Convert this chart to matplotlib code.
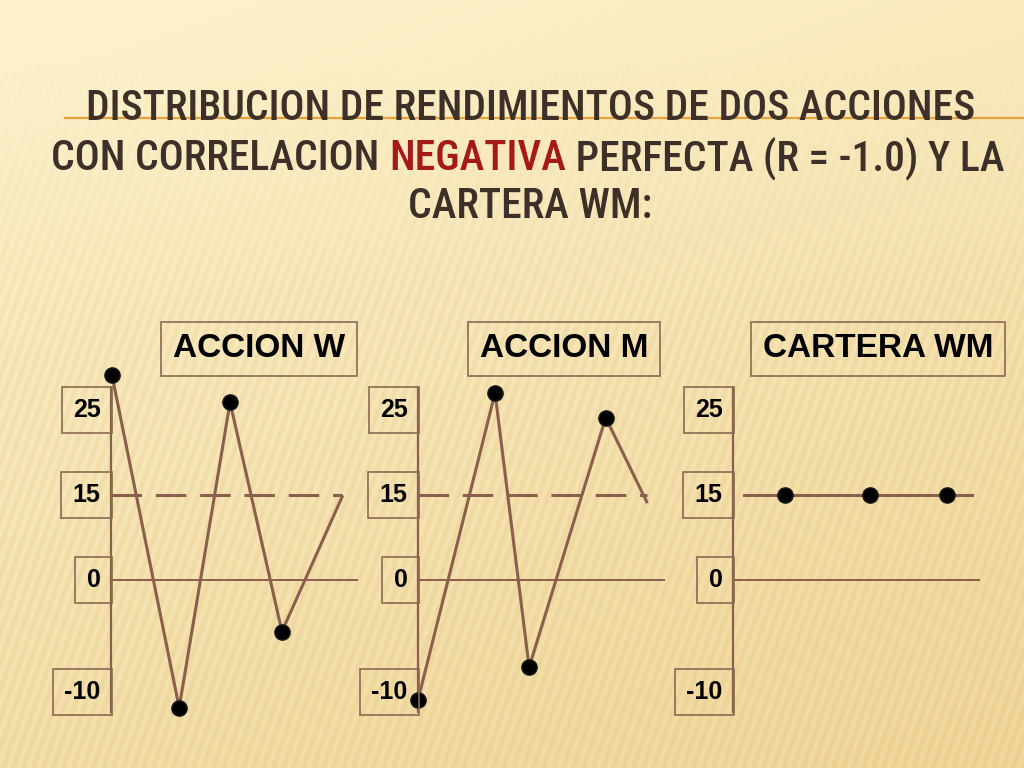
import numpy as np
import matplotlib
matplotlib.use("Agg")
import matplotlib.pyplot as plt
from matplotlib import font_manager as fm

# ---------------- data ----------------
title_lines = ["DISTRIBUCION DE RENDIMIENTOS DE DOS ACCIONES",
               ["CON CORRELACION ", "NEGATIVA", " PERFECTA (R = -1.0) Y LA"],
               "CARTERA WM:"]
panel_titles = ["ACCION W", "ACCION M", "CARTERA WM"]
tick_values = [25, 15, 0, -10]
tick_labels = ["25", "15", "0", "-10"]

w_x = [0.02, 1.38, 2.41, 3.46, 4.68]
w_y = [29.1, -11.4, 25.9, -4.6, 14.7]
m_x = [0.00, 1.56, 2.25, 3.80, 4.63]
m_y = [-10.7, 27.0, -7.8, 24.1, 13.8]
wm_x = [0.22, 1.05, 2.77, 4.33, 4.84]
wm_y = [15, 15, 15, 15, 15]
mean_value = 15

# ---------------- styling ----------------
W, H = 1024, 768
BROWN = "#8a5f4b"
BOX = "#8b6a52"
TITLE_C = "#3d3028"
RED = "#a3191c"

names = {f.name for f in fm.fontManager.ttflist}
TSTRETCH = "normal"
if "Roboto Condensed" in names:
    TFAM = "Roboto Condensed"
elif "Liberation Sans Narrow" in names:
    TFAM = "Liberation Sans Narrow"
else:
    TFAM = "DejaVu Sans"
    TSTRETCH = "condensed"
LFAM = "Liberation Sans" if "Liberation Sans" in names else "DejaVu Sans"
TW = "medium"

fig = plt.figure(figsize=(W / 100, H / 100), dpi=100)

# background gradient with faint stripes
yy, xx = np.mgrid[0:H, 0:W]
t = np.clip((yy / H) * 0.75 + (xx / W) * 0.35 - 0.05, 0, 1)
top = np.array([0xfd, 0xf2, 0xcc]) / 255
bot = np.array([0xf1, 0xd9, 0x9e]) / 255
img = top[None, None, :] * (1 - t[..., None]) + bot[None, None, :] * t[..., None]
phase = (xx - 0.35 * (H - yy)) * 2 * np.pi / 10.0
stripe_amp = 0.05 * np.clip((yy - 50) / 250, 0, 1)
img = img - (stripe_amp * (0.5 + 0.5 * np.sin(phase)))[..., None] * np.array([0.5, 0.75, 1.0])
img = np.clip(img, 0, 1)
bg = fig.add_axes([0, 0, 1, 1])
bg.imshow(img, extent=[0, W, H, 0], aspect="auto", zorder=0)
bg.set_xlim(0, W)
bg.set_ylim(H, 0)
bg.axis("off")

# orange decorative rule
bg.plot([65, W], [118, 118], color="#e8a03c", lw=1.6, zorder=1)


def fx(px):
    return px / W


def fy(py):
    return 1 - py / H


# ---------------- title ----------------
renderer = fig.canvas.get_renderer()
tkw = dict(family=TFAM, fontstretch=TSTRETCH, fontweight=TW)


def measure(s, size):
    tt = fig.text(0, 0, s, fontsize=size, **tkw)
    wd = tt.get_window_extent(renderer).width
    tt.remove()
    return wd


s1 = 30 * 902 / measure(title_lines[0], 30)
s2 = 30 * 953 / measure("".join(title_lines[1]), 30)
tsize = min(s1, s2)

fig.text(fx(531), fy(109), title_lines[0], fontsize=tsize, color=TITLE_C,
         ha="center", va="center", **tkw)
parts = title_lines[1]
colors = [TITLE_C, RED, TITLE_C]
widths = [measure(p, tsize) for p in parts]
x0 = 528 - sum(widths) / 2
for p, c, wd in zip(parts, colors, widths):
    fig.text(fx(x0), fy(158), p, fontsize=tsize, color=c,
             ha="left", va="center", **tkw)
    x0 += wd
fig.text(fx(530), fy(206), title_lines[2], fontsize=tsize, color=TITLE_C,
         ha="center", va="center", **tkw)

# ---------------- piecewise scale ----------------
kv = np.array([-10.0, 0.0, 15.0, 25.0])
kp = np.array([0.0, 112.0, 197.0, 282.0])
s_lo, s_hi = 11.2, 8.5


def fwd(v):
    v = np.asarray(v, dtype=float)
    out = np.interp(v, kv, kp)
    out = np.where(v < kv[0], kp[0] + (v - kv[0]) * s_lo, out)
    out = np.where(v > kv[-1], kp[-1] + (v - kv[-1]) * s_hi, out)
    return out


def inv(p):
    p = np.asarray(p, dtype=float)
    out = np.interp(p, kp, kv)
    out = np.where(p < kp[0], kv[0] + (p - kp[0]) / s_lo, out)
    out = np.where(p > kp[-1], kv[-1] + (p - kp[-1]) / s_hi, out)
    return out


ybot = float(inv(692 - 712))
ytop = float(inv(692 - 388))

lefts = [111, 418, 733]
pw = 247
ptop, pbot = 388, 712
title_centers = [(259, 349), (564, 349), (878, 349)]

series = [(w_x, w_y, True), (m_x, m_y, True), (wm_x, wm_y, False)]

for i, (lx, (sx, sy, has_mean)) in enumerate(zip(lefts, series)):
    ax = fig.add_axes([fx(lx), fy(pbot), pw / W, (pbot - ptop) / H])
    ax.set_facecolor("none")
    ax.set_yscale("function", functions=(fwd, inv))
    ax.set_xlim(0, 5)
    ax.set_ylim(ybot, ytop)
    for s in ["top", "right", "bottom"]:
        ax.spines[s].set_visible(False)
    ax.spines["left"].set_color(BROWN)
    ax.spines["left"].set_linewidth(1.6)
    ax.set_xticks([])
    ax.set_yticks([])
    ax.axhline(0, color=BROWN, lw=1.4, zorder=2)
    if has_mean:
        ax.plot([0, sx[-1]], [mean_value, mean_value], color=BROWN, lw=2.2,
                dashes=(10, 4.5), zorder=2, clip_on=False)
        mk = [0, 1, 2, 3]
    else:
        mk = [1, 2, 3]
    ax.plot(sx, sy, color=BROWN, lw=2.2, zorder=3, clip_on=False,
            marker="o", markersize=11, markerfacecolor="black",
            markeredgecolor="#1a1a1a", markevery=mk)
    for v, lab in zip(tick_values, tick_labels):
        ax.annotate(lab, xy=(0, v), xycoords=("axes fraction", "data"),
                    xytext=(-7.5, 0), textcoords="offset points",
                    ha="right", va="center", fontsize=18, fontweight="bold",
                    family=LFAM, color="black",
                    bbox=dict(boxstyle="square,pad=0.45", fc="none",
                              ec=BOX, lw=1.2),
                    annotation_clip=False)
    cx, cy = title_centers[i]
    fig.text(fx(cx), fy(cy), panel_titles[i], fontsize=24, fontweight="bold",
             family=LFAM, color="black", ha="center", va="center",
             bbox=dict(boxstyle="square,pad=0.35", fc="none", ec=BOX, lw=1.2))

fig.savefig("out.png", dpi=100)
